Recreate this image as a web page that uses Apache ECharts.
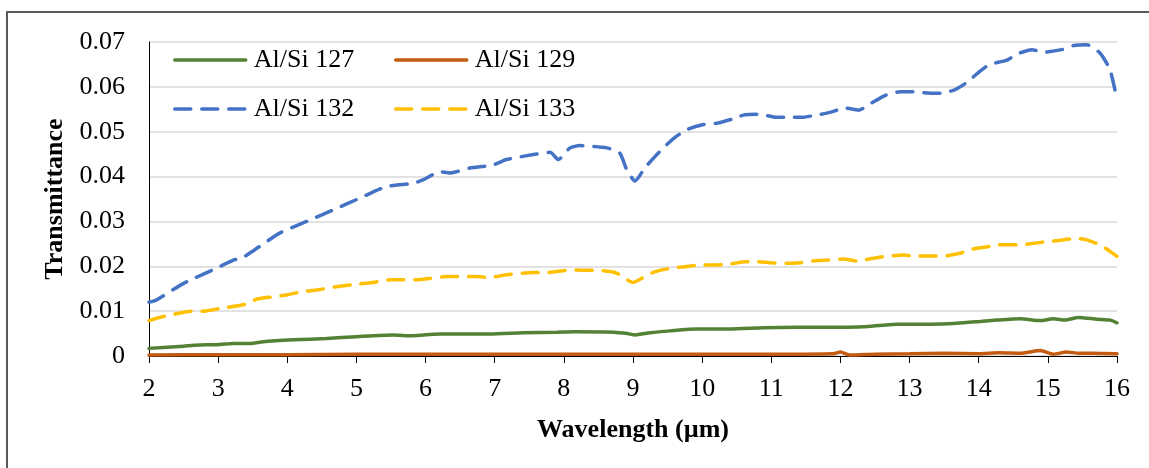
<!DOCTYPE html>
<html>
<head>
<meta charset="utf-8">
<script src="https://cdn.jsdelivr.net/npm/echarts@6/dist/echarts.min.js"></script>
<style>
html,body{margin:0;padding:0;background:#fff;}
#chart{width:1149px;height:468px;}
</style>
</head>
<body>
<div id="chart"></div>
<script>
const seriesNames = ['Al/Si 127', 'Al/Si 129', 'Al/Si 132', 'Al/Si 133'];
const xTicks = [2, 16, 1];
const yTicks = [0, 0.07, 0.01];

const wl127 = [2.0, 2.50, 2.83, 2.98, 3.22, 3.46, 3.65, 4.09, 4.57, 5.00, 5.53, 5.73, 6.21, 6.93, 7.41, 7.90, 8.14, 8.72, 8.92, 9.03, 9.25, 9.54, 9.92, 10.40, 10.88, 11.37, 11.99, 12.33, 12.81, 13.30, 13.68, 14.02, 14.26, 14.60, 14.89, 15.08, 15.25, 15.44, 15.71, 15.90, 16.0];
const t127 = [0.0017, 0.0022, 0.0025, 0.0025, 0.0028, 0.0028, 0.0032, 0.0036, 0.0039, 0.0043, 0.0047, 0.0045, 0.0049, 0.0049, 0.0052, 0.0053, 0.0054, 0.0053, 0.0050, 0.0047, 0.0052, 0.0056, 0.0060, 0.0060, 0.0063, 0.0064, 0.0064, 0.0065, 0.0071, 0.0071, 0.0073, 0.0077, 0.0080, 0.0083, 0.0079, 0.0083, 0.0080, 0.0086, 0.0082, 0.0080, 0.0074];

const wl129 = [2.0, 3.0, 4.0, 5.0, 6.0, 7.0, 8.0, 9.0, 10.0, 11.0, 11.9, 12.0, 12.14, 12.5, 13.0, 13.5, 14.0, 14.3, 14.6, 14.89, 15.08, 15.27, 15.45, 15.61, 16.0];
const t129 = [0.0002, 0.0003, 0.0003, 0.0004, 0.0004, 0.0004, 0.0004, 0.0004, 0.0004, 0.0004, 0.0005, 0.0009, 0.0002, 0.0004, 0.0005, 0.0006, 0.0005, 0.0007, 0.0006, 0.0012, 0.0004, 0.0009, 0.0006, 0.0006, 0.0005];

const wl132 = [2.0, 2.11, 2.5, 2.98, 3.22, 3.34, 3.53, 3.89, 4.28, 4.67, 5.05, 5.44, 5.82, 5.97, 6.21, 6.35, 6.64, 6.98, 7.17, 7.56, 7.80, 7.92, 8.09, 8.23, 8.62, 8.81, 8.91, 9.03, 9.17, 9.32, 9.46, 9.63, 9.80, 10.02, 10.21, 10.43, 10.62, 10.84, 11.03, 11.27, 11.44, 11.68, 11.85, 12.07, 12.26, 12.45, 12.65, 12.86, 13.05, 13.30, 13.46, 13.66, 13.83, 14.02, 14.16, 14.40, 14.57, 14.77, 14.93, 15.20, 15.37, 15.56, 15.75, 15.90, 16.0];
const t132 = [0.0120, 0.0125, 0.0162, 0.0196, 0.0214, 0.0218, 0.0237, 0.0274, 0.0300, 0.0326, 0.0352, 0.0378, 0.0385, 0.0393, 0.0411, 0.0408, 0.0419, 0.0426, 0.0438, 0.0449, 0.0454, 0.0438, 0.0464, 0.0469, 0.0464, 0.0452, 0.0415, 0.0390, 0.0419, 0.0445, 0.0467, 0.0490, 0.0506, 0.0516, 0.0519, 0.0528, 0.0538, 0.0539, 0.0533, 0.0532, 0.0532, 0.0538, 0.0543, 0.0553, 0.0548, 0.0564, 0.0581, 0.0589, 0.0589, 0.0586, 0.0586, 0.0594, 0.0610, 0.0635, 0.0650, 0.0659, 0.0674, 0.0683, 0.0677, 0.0683, 0.0692, 0.0694, 0.0676, 0.0638, 0.0570];

const wl133 = [2.0, 2.21, 2.64, 2.79, 3.03, 3.41, 3.56, 3.80, 3.99, 4.23, 4.43, 4.64, 5.05, 5.24, 5.49, 5.87, 6.06, 6.31, 6.50, 6.74, 6.91, 7.17, 7.56, 7.75, 7.99, 8.14, 8.57, 8.76, 8.96, 9.00, 9.17, 9.32, 9.56, 9.75, 9.97, 10.16, 10.40, 10.62, 10.81, 10.98, 11.22, 11.42, 11.66, 11.82, 12.04, 12.23, 12.48, 12.65, 12.91, 13.05, 13.30, 13.49, 13.73, 13.87, 14.14, 14.26, 14.55, 14.74, 14.98, 15.13, 15.42, 15.56, 15.75, 15.92, 16.0];
const t133 = [0.0079, 0.0088, 0.0100, 0.0100, 0.0106, 0.0116, 0.0127, 0.0132, 0.0136, 0.0144, 0.0147, 0.0153, 0.0161, 0.0164, 0.0170, 0.0170, 0.0173, 0.0177, 0.0177, 0.0177, 0.0175, 0.0181, 0.0186, 0.0186, 0.0190, 0.0192, 0.0190, 0.0185, 0.0166, 0.0164, 0.0177, 0.0188, 0.0196, 0.0199, 0.0203, 0.0203, 0.0205, 0.0210, 0.0210, 0.0208, 0.0207, 0.0208, 0.0213, 0.0214, 0.0216, 0.0212, 0.0218, 0.0222, 0.0225, 0.0223, 0.0223, 0.0223, 0.0229, 0.0237, 0.0244, 0.0248, 0.0248, 0.0250, 0.0255, 0.0257, 0.0262, 0.0259, 0.0248, 0.0231, 0.0222];

const xs = [wl127, wl129, wl132, wl133];
const ys = [t127, t129, t132, t133];
const colors = ['#548235', '#C55A11', '#4472C4', '#FFC000'];
const dashed = [false, false, true, true];

const FONT = '"Liberation Serif", "Times New Roman", serif';
const FS = 26;
const LW = 3.5;
const DASH = [16, 11];

function pairs(a, b) { return a.map((v, i) => [v, b[i]]); }

const series = seriesNames.map((n, i) => ({
  name: n,
  type: 'line',
  data: pairs(xs[i], ys[i]),
  symbol: 'none',
  showSymbol: false,
  smooth: 0.2,
  z: 2 + i,
  lineStyle: { color: colors[i], width: LW, type: dashed[i] ? DASH : 'solid', cap: 'round' },
  itemStyle: { color: colors[i] },
  animation: false
}));

const legendPos = [[173, 45], [394, 45], [173, 94], [394, 94]];
const legends = seriesNames.map((n, i) => ({
  data: [n],
  left: legendPos[i][0],
  top: legendPos[i][1],
  orient: 'horizontal',
  padding: 0,
  itemWidth: 71,
  itemHeight: 30,
  selectedMode: false,
  itemStyle: { opacity: 0 },
  lineStyle: { color: colors[i], width: LW, type: dashed[i] ? DASH : 'solid', cap: 'round', opacity: 1 },
  textStyle: { fontFamily: FONT, fontSize: FS, color: '#000', lineHeight: 30, padding: [0, 0, 0, 3] }
}));

const chart = echarts.init(document.getElementById('chart'), null, { renderer: 'canvas' });
chart.setOption({
  animation: false,
  backgroundColor: '#fff',
  grid: { left: 149, right: 32, top: 42, bottom: 112, containLabel: false },
  legend: legends,
  xAxis: {
    type: 'value',
    min: xTicks[0], max: xTicks[1], interval: xTicks[2],
    name: 'Wavelength (µm)',
    nameLocation: 'middle',
    nameGap: 61,
    nameTextStyle: { fontFamily: FONT, fontSize: FS, fontWeight: 'bold', color: '#000' },
    axisLine: { show: true, onZero: false, lineStyle: { color: '#000', width: 1 } },
    axisTick: { show: true, length: 7, inside: false, lineStyle: { color: '#000', width: 1 } },
    axisLabel: { fontFamily: FONT, fontSize: FS, color: '#000', margin: 20 },
    splitLine: { show: false }
  },
  yAxis: {
    type: 'value',
    min: yTicks[0], max: yTicks[1], interval: yTicks[2],
    name: 'Transmittance',
    nameLocation: 'middle',
    nameGap: 78,
    nameRotate: 90,
    nameTextStyle: { fontFamily: FONT, fontSize: FS, fontWeight: 'bold', color: '#000' },
    axisLine: { show: true, lineStyle: { color: '#000', width: 1 } },
    axisTick: { show: false },
    axisLabel: {
      fontFamily: FONT, fontSize: FS, color: '#000', margin: 24,
      formatter: v => (Math.abs(v) < 1e-9 ? '0' : v.toFixed(2))
    },
    splitLine: { show: true, lineStyle: { color: '#D9D9D9', width: 1.5 } }
  },
  graphic: [{
    type: 'rect',
    shape: { x: 7, y: 12, width: 1300, height: 600 },
    style: { fill: 'none', stroke: '#595959', lineWidth: 2 },
    silent: true,
    z: 100
  }],
  series: series
});
</script>
</body>
</html>
